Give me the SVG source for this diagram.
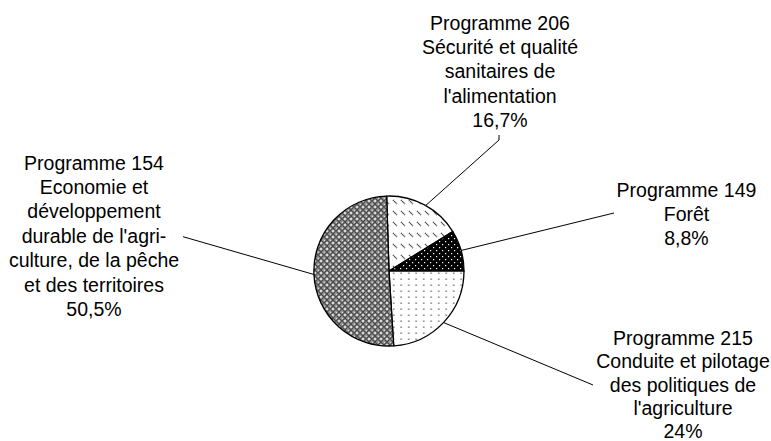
<svg xmlns="http://www.w3.org/2000/svg" width="771" height="441" viewBox="0 0 771 441">
<style>
text{font-family:"Liberation Sans",Arial,sans-serif;font-size:19.5px;fill:#000;text-anchor:middle}
.slice{stroke:#000;stroke-width:1.3;stroke-linejoin:round}
.conn{fill:none;stroke:#000;stroke-width:1}
</style>
<defs>
<pattern id="pDash" width="8" height="11" patternUnits="userSpaceOnUse">
<rect width="8" height="11" fill="#fff"/>
<line x1="1" y1="2" x2="5" y2="6" stroke="#444" stroke-width="1.4" stroke-dasharray="1.1 0.5"/>
</pattern>
<pattern id="pBlack" width="6" height="6" patternUnits="userSpaceOnUse">
<rect width="6" height="6" fill="#000"/>
<rect x="1" y="1" width="1.2" height="1.2" fill="#fff"/>
<rect x="4" y="4" width="1.2" height="1.2" fill="#fff"/>
</pattern>
<pattern id="pDots" width="7.5" height="6" patternUnits="userSpaceOnUse">
<rect width="7.5" height="6" fill="#fff"/>
<rect x="3" y="2.5" width="1.4" height="1.4" fill="#666"/>
</pattern>
<pattern id="pGrid" width="6" height="6" patternUnits="userSpaceOnUse">
<rect width="6" height="6" fill="#999"/>
<path d="M0,3 L3,0 L6,3 L3,6 Z" fill="none" stroke="#4a4a4a" stroke-width="1.1"/>
<rect x="2.2" y="2.2" width="1.6" height="1.6" fill="#fff"/>
<rect x="0" y="0" width="0.9" height="0.9" fill="#eee"/>
</pattern>
</defs>
<g id="connectors">
<polyline class="conn" points="424,207 499,140 499,135"/>
<line class="conn" x1="461" y1="250.5" x2="614" y2="213"/>
<line class="conn" x1="443.5" y1="322.5" x2="593" y2="385"/>
<line class="conn" x1="314" y1="274.5" x2="183" y2="236.7"/>
</g>
<g id="prog206">
<path class="slice" fill="url(#pDash)" d="M389,271 L386.64,196.04 A75,75 0 0 1 452.81,231.59 Z"/>
<text x="500" y="29.5">Programme 206</text>
<text x="500" y="54">Sécurité et qualité</text>
<text x="500" y="78">sanitaires de</text>
<text x="500" y="102.5">l'alimentation</text>
<text x="500" y="126.5">16,7%</text>
</g>
<g id="prog149">
<path class="slice" fill="url(#pBlack)" d="M389,271 L452.81,231.59 A75,75 0 0 1 464,271 Z"/>
<text x="686.5" y="196.5">Programme 149</text>
<text x="686.5" y="220.5">Forêt</text>
<text x="686.5" y="244.5">8,8%</text>
</g>
<g id="prog215">
<path class="slice" fill="url(#pDots)" d="M389,271 L464,271 A75,75 0 0 1 393.71,345.85 Z"/>
<text x="683" y="344.5">Programme 215</text>
<text x="683" y="368">Conduite et pilotage</text>
<text x="683" y="391.5">des politiques de</text>
<text x="683" y="415">l'agriculture</text>
<text x="683" y="437.5">24%</text>
</g>
<g id="prog154">
<path class="slice" fill="url(#pGrid)" d="M389,271 L393.71,345.85 A75,75 0 1 1 386.64,196.04 Z"/>
<text x="94" y="169.5">Programme 154</text>
<text x="94" y="193.8">Economie et</text>
<text x="94" y="218">développement</text>
<text x="94" y="242.5">durable de l'agri-</text>
<text x="94" y="267">culture, de la pêche</text>
<text x="94" y="291.5">et des territoires</text>
<text x="94" y="316">50,5%</text>
</g>
</svg>
